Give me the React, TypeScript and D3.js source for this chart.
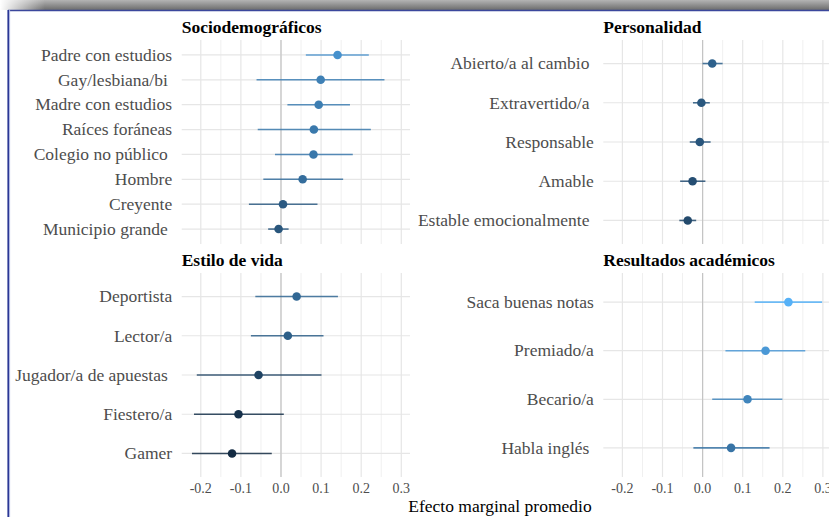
import React from "react";
import * as d3 from "d3";

const socioLabels = ["Padre con estudios", "Gay/lesbiana/bi ", "Madre con estudios", "Raíces foráneas", "Colegio no público ", "Hombre", "Creyente", "Municipio grande "];
const socioEst = [0.141, 0.099, 0.094, 0.082, 0.081, 0.054, 0.005, -0.006];
const socioLo = [0.062, -0.061, 0.016, -0.058, -0.015, -0.044, -0.080, -0.032];
const socioHi = [0.219, 0.258, 0.172, 0.224, 0.179, 0.155, 0.091, 0.019];

const persLabels = ["Abierto/a al cambio ", "Extravertido/a ", "Responsable", "Amable", "Estable emocionalmente "];
const persEst = [0.024, -0.003, -0.007, -0.025, -0.037];
const persLo = [0.0, -0.024, -0.032, -0.056, -0.058];
const persHi = [0.050, 0.018, 0.020, 0.007, -0.016];

const vidaLabels = ["Deportista", "Lector/a", "Jugador/a de apuestas ", "Fiestero/a", "Gamer"];
const vidaEst = [0.039, 0.017, -0.056, -0.106, -0.122];
const vidaLo = [-0.064, -0.075, -0.210, -0.217, -0.222];
const vidaHi = [0.142, 0.106, 0.101, 0.007, -0.023];

const acadLabels = ["Saca buenas notas", "Premiado/a", "Becario/a", "Habla inglés "];
const acadEst = [0.214, 0.157, 0.112, 0.071];
const acadLo = [0.130, 0.057, 0.024, -0.023];
const acadHi = [0.298, 0.256, 0.199, 0.167];

const majorTicks = [-0.2, -0.1, 0.0, 0.1, 0.2, 0.3];
const minorTicks = [-0.15, -0.05, 0.05, 0.15, 0.25];

const allEst = [...socioEst, ...persEst, ...vidaEst, ...acadEst];
const color = d3
  .scaleLinear<string>()
  .domain([d3.min(allEst) as number, d3.max(allEst) as number])
  .range(["#132B43", "#56B1F7"])
  .interpolate(d3.interpolateLab);

const FONT = "'Liberation Serif', 'Times New Roman', serif";
const DOMAIN: [number, number] = [-0.2476, 0.3217];

type PanelProps = {
  title: string;
  labels: string[];
  est: number[];
  lo: number[];
  hi: number[];
  left: number;
  right: number;
  top: number;
  bottom: number;
  titleY: number;
  showAxis: boolean;
};

function Panel({ title, labels, est, lo, hi, left, right, top, bottom, titleY, showAxis }: PanelProps) {
  const x = d3.scaleLinear().domain(DOMAIN).range([left, right]);
  const y = d3.scalePoint<string>().domain(labels).range([top, bottom]).padding(0.6);
  return (
    <g>
      <text x={left} y={titleY} fontFamily={FONT} fontWeight="bold" fontSize={17.5} fill="#000">
        {title}
      </text>
      {minorTicks.map((t) => (
        <line key={"mi" + t} x1={x(t)} x2={x(t)} y1={top} y2={bottom} stroke="#f0f0f0" strokeWidth={1} />
      ))}
      {majorTicks.map((t) => (
        <line key={"ma" + t} x1={x(t)} x2={x(t)} y1={top} y2={bottom} stroke="#e6e6e6" strokeWidth={1.2} />
      ))}
      {labels.map((l) => (
        <line key={"h" + l} x1={left} x2={right} y1={y(l)} y2={y(l)} stroke="#e6e6e6" strokeWidth={1.2} />
      ))}
      <line x1={x(0)} x2={x(0)} y1={top} y2={bottom} stroke="#c4c4c4" strokeWidth={1.2} />
      {labels.map((l, i) => (
        <g key={"d" + l}>
          <line x1={x(lo[i])} x2={x(hi[i])} y1={y(l)} y2={y(l)} stroke={color(est[i])} strokeOpacity={0.85} strokeWidth={1.6} />
          <circle cx={x(est[i])} cy={y(l)} r={4.3} fill={color(est[i])} />
          <text
            x={left - 9.5}
            y={y(l)}
            dy="0.33em"
            textAnchor="end"
            fontFamily={FONT}
            fontSize={17.5}
            fill="#4d4d4d"
            style={{ whiteSpace: "pre" }}
          >
            {l}
          </text>
        </g>
      ))}
      {showAxis &&
        majorTicks.map((t) => (
          <text
            key={"t" + t}
            x={x(t)}
            y={bottom + 16}
            textAnchor="middle"
            fontFamily={FONT}
            fontSize={14}
            fill="#4d4d4d"
          >
            {t.toFixed(1)}
          </text>
        ))}
    </g>
  );
}

export default function App() {
  const W = 829;
  const H = 517;
  return (
    <svg
      width={W}
      height={H}
      style={{ position: "absolute", left: 0, top: 0, background: "#fff" }}
    >
      <defs>
        <linearGradient id="band" x1="0" y1="0" x2="0" y2="1">
          <stop offset="0" stopColor="#b4b4b4" />
          <stop offset="1" stopColor="#6c6c6c" />
        </linearGradient>
        <linearGradient id="fade" x1="0" y1="0" x2="1" y2="0">
          <stop offset="0" stopColor="#fff" stopOpacity={1} />
          <stop offset="1" stopColor="#fff" stopOpacity={0} />
        </linearGradient>
      </defs>
      <rect x={0} y={0} width={W} height={H} fill="#fff" />
      <rect x={0} y={0} width={W} height={10} fill="url(#band)" />
      <rect x={0} y={0} width={45} height={10} fill="url(#fade)" />
      <line x1={8} x2={W} y1={10.5} y2={10.5} stroke="#3b479c" strokeWidth={1.5} />
      <line x1={8.2} x2={8.2} y1={10} y2={H} stroke="#2b3795" strokeWidth={1.6} />
      <line x1={9.6} x2={9.6} y1={10} y2={H} stroke="#a9b1e0" strokeWidth={1} />

      <Panel title="Sociodemográficos" labels={socioLabels} est={socioEst} lo={socioLo} hi={socioHi}
        left={181.7} right={410} top={40} bottom={244} titleY={32.5} showAxis={false} />
      <Panel title="Personalidad" labels={persLabels} est={persEst} lo={persLo} hi={persHi}
        left={603.3} right={831.6} top={40} bottom={244} titleY={32.5} showAxis={false} />
      <Panel title="Estilo de vida" labels={vidaLabels} est={vidaEst} lo={vidaLo} hi={vidaHi}
        left={181.7} right={410} top={273} bottom={477} titleY={266} showAxis={true} />
      <Panel title="Resultados académicos" labels={acadLabels} est={acadEst} lo={acadLo} hi={acadHi}
        left={603.3} right={831.6} top={273} bottom={477} titleY={266} showAxis={true} />

      <text x={500} y={512} textAnchor="middle" fontFamily={FONT} fontSize={17.5} fill="#000">
        Efecto marginal promedio
      </text>
    </svg>
  );
}
